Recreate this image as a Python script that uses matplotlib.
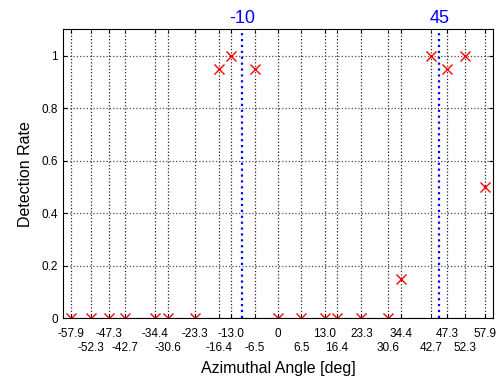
import matplotlib
matplotlib.use('Agg')
import matplotlib.pyplot as plt

plt.rcParams['font.family'] = ['Liberation Sans', 'DejaVu Sans']

# angles where detection was measured
angles = [-57.9, -52.3, -47.3, -42.7, -34.4, -30.6, -23.3, -16.4, -13.0, -6.5,
          0, 6.5, 13.0, 16.4, 23.3, 30.6, 34.4, 42.7, 47.3, 52.3, 57.9]
rates = [0, 0, 0, 0, 0, 0, 0, 0.95, 1, 0.95,
         0, 0, 0, 0, 0, 0, 0.15, 1, 0.95, 1, 0.5]
tick_labels = ['-57.9', '-52.3', '-47.3', '-42.7', '-34.4', '-30.6', '-23.3', '-16.4', '-13.0', '-6.5',
               '0', '6.5', '13.0', '16.4', '23.3', '30.6', '34.4', '42.7', '47.3', '52.3', '57.9']
sources = [-10, 45]

fig = plt.figure(figsize=(5, 3.81), dpi=100)
ax = fig.add_axes([0.126, 0.165, 0.86, 0.758])

ax.plot(angles, rates, 'x', color='red', markersize=6.5, markeredgewidth=1)

for s in sources:
    ax.axvline(s, color='blue', linestyle=':', linewidth=1.6)
    ax.text(s, 1.107, str(s), color='blue', fontsize=13, ha='center', va='bottom')

ax.set_xlim(-60, 60)
ax.set_ylim(0, 1.1)

# alternate labels on two rows: even ones as major ticks, odd ones as minor ticks
ax.set_xticks(angles[::2])
ax.set_xticklabels(tick_labels[::2], fontsize=8.5)
ax.set_xticks(angles[1::2], minor=True)
ax.set_xticklabels(tick_labels[1::2], minor=True, fontsize=8.5)
ax.tick_params(axis='x', which='major', pad=7)
ax.tick_params(axis='x', which='minor', pad=17)

ax.set_yticks([0, 0.2, 0.4, 0.6, 0.8, 1])
ax.set_yticklabels(['0', '0.2', '0.4', '0.6', '0.8', '1'], fontsize=8.5)
ax.tick_params(which='both', direction='in', top=True, right=True, length=3)

ax.grid(True, which='both', axis='x', linestyle=':', color='0.15', linewidth=0.9)
ax.grid(True, axis='y', linestyle=':', color='0.3', linewidth=0.9)

ax.set_xlabel('Azimuthal Angle [deg]', fontsize=11.5, labelpad=5)
ax.set_ylabel('Detection Rate', fontsize=11.5, labelpad=6)

fig.savefig('out.png', dpi=100)
